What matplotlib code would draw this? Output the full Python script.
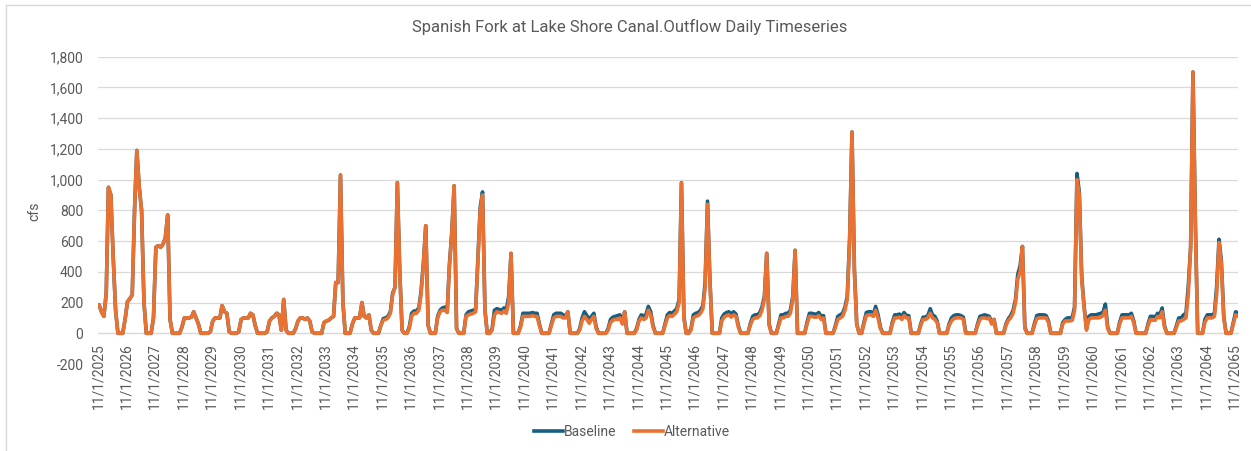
import matplotlib
matplotlib.use("Agg")
import matplotlib.pyplot as plt
import pandas as pd
from matplotlib.lines import Line2D
from matplotlib.ticker import FuncFormatter, FixedLocator, FixedFormatter

# ---------------- data (monthly readings, Nov..Oct per water year) ----------------
series_names = ["Baseline", "Alternative"]
first_month = "2025-11"

alternative = [
    185, 140, 110, 260, 950, 900, 500, 150, 0, 0, 0, 90,          # 2025-26
    205, 225, 250, 820, 1190, 950, 800, 200, 0, 0, 0, 100,       # 2026-27
    560, 570, 560, 580, 620, 770, 90, 0, 0, 0, 0, 40,            # 2027-28
    100, 100, 100, 105, 140, 100, 60, 0, 0, 0, 0, 10,            # 2028-29
    80, 100, 100, 100, 180, 140, 130, 10, 0, 0, 0, 10,           # 2029-30
    90, 100, 100, 100, 130, 120, 50, 0, 0, 0, 0, 10,             # 2030-31
    80, 100, 110, 130, 120, 20, 220, 20, 0, 0, 0, 30,            # 2031-32
    80, 100, 100, 90, 100, 80, 10, 0, 0, 0, 0, 70,               # 2032-33
    80, 85, 100, 110, 330, 330, 1030, 200, 0, 0, 0, 60,          # 2033-34
    100, 100, 100, 200, 110, 100, 120, 20, 0, 0, 0, 50,          # 2034-35
    85, 90, 100, 130, 250, 300, 980, 400, 20, 0, 0, 30,          # 2035-36
    110, 130, 130, 150, 250, 450, 700, 50, 0, 0, 0, 100,         # 2036-37
    140, 150, 150, 135, 430, 650, 960, 30, 0, 0, 0, 110,         # 2037-38
    120, 125, 130, 140, 450, 800, 900, 150, 0, 0, 20, 120,       # 2038-39
    140, 135, 130, 145, 130, 200, 520, 0, 0, 0, 40, 110,         # 2039-40
    110, 110, 110, 115, 110, 110, 50, 0, 0, 0, 0, 50,            # 2040-41
    100, 110, 110, 110, 100, 100, 140, 0, 0, 0, 0, 20,           # 2041-42
    80, 110, 90, 65, 90, 110, 30, 0, 0, 0, 0, 20,                # 2042-43
    70, 85, 90, 90, 100, 60, 140, 0, 0, 0, 0, 20,                # 2043-44
    80, 100, 90, 100, 150, 120, 40, 0, 0, 0, 0, 50,              # 2044-45
    100, 115, 110, 125, 140, 200, 980, 100, 0, 0, 20, 100,       # 2045-46
    110, 115, 130, 160, 300, 840, 350, 0, 0, 0, 0, 80,           # 2046-47
    105, 115, 120, 105, 120, 110, 40, 0, 0, 0, 0, 50,            # 2047-48
    90, 100, 100, 115, 150, 220, 520, 50, 0, 0, 0, 50,           # 2048-49
    100, 100, 110, 110, 130, 220, 540, 0, 0, 0, 0, 60,           # 2049-50
    110, 110, 105, 105, 115, 90, 100, 0, 0, 0, 0, 40,            # 2050-51
    90, 100, 110, 150, 220, 600, 1310, 400, 60, 0, 0, 60,        # 2051-52
    115, 120, 120, 110, 150, 100, 30, 0, 0, 0, 0, 60,            # 2052-53
    100, 100, 105, 90, 115, 100, 100, 0, 0, 0, 0, 50,            # 2053-54
    90, 90, 100, 130, 100, 90, 70, 0, 0, 0, 0, 50,               # 2054-55
    80, 95, 100, 100, 100, 90, 0, 0, 0, 0, 0, 50,                # 2055-56
    90, 100, 100, 95, 100, 60, 90, 0, 0, 0, 0, 50,               # 2056-57
    85, 100, 130, 200, 350, 400, 565, 30, 0, 0, 0, 50,           # 2057-58
    95, 100, 100, 100, 100, 70, 0, 0, 0, 0, 0, 60,               # 2058-59
    80, 80, 80, 85, 150, 1000, 900, 350, 170, 20, 90, 100,       # 2059-60
    100, 100, 100, 105, 115, 150, 30, 0, 0, 0, 0, 60,            # 2060-61
    100, 100, 100, 100, 110, 70, 0, 0, 0, 0, 0, 50,              # 2061-62
    90, 85, 85, 110, 100, 140, 40, 0, 0, 0, 0, 40,               # 2062-63
    80, 80, 90, 100, 250, 550, 1700, 700, 0, 0, 0, 70,           # 2063-64
    100, 100, 100, 110, 250, 590, 450, 100, 0, 0, 0, 60,         # 2064-65
    120, 110,                                                    # 2065
]

baseline = [
    185, 140, 110, 260, 950, 900, 500, 150, 0, 0, 0, 90,          # 2025-26
    205, 225, 250, 820, 1190, 950, 800, 200, 0, 0, 0, 100,       # 2026-27
    560, 570, 560, 580, 620, 770, 90, 0, 0, 0, 0, 40,            # 2027-28
    100, 100, 100, 105, 140, 100, 60, 0, 0, 0, 0, 10,            # 2028-29
    80, 100, 100, 100, 180, 140, 130, 10, 0, 0, 0, 10,           # 2029-30
    90, 100, 100, 100, 130, 120, 50, 0, 0, 0, 0, 10,             # 2030-31
    80, 100, 110, 130, 120, 20, 220, 20, 0, 0, 0, 30,            # 2031-32
    80, 100, 100, 90, 100, 80, 10, 0, 0, 0, 0, 70,               # 2032-33
    80, 85, 100, 110, 330, 330, 1030, 200, 0, 0, 0, 60,          # 2033-34
    100, 100, 100, 200, 110, 100, 120, 20, 0, 0, 0, 50,          # 2034-35
    95, 100, 110, 140, 260, 300, 980, 400, 20, 0, 0, 40,         # 2035-36
    130, 145, 145, 165, 270, 460, 700, 50, 0, 0, 0, 110,         # 2036-37
    150, 165, 170, 145, 445, 660, 960, 30, 0, 0, 0, 120,         # 2037-38
    140, 145, 150, 155, 466, 820, 920, 150, 0, 0, 30, 150,       # 2038-39
    160, 155, 150, 165, 150, 240, 520, 0, 0, 0, 50, 130,         # 2039-40
    130, 130, 130, 135, 130, 130, 60, 0, 0, 0, 0, 60,            # 2040-41
    120, 130, 130, 130, 120, 110, 140, 0, 0, 0, 0, 30,           # 2041-42
    100, 140, 115, 90, 110, 130, 40, 0, 0, 0, 0, 30,             # 2042-43
    90, 105, 110, 115, 120, 70, 140, 0, 0, 0, 0, 30,             # 2043-44
    90, 120, 110, 125, 175, 140, 50, 0, 0, 0, 0, 60,             # 2044-45
    120, 135, 130, 145, 160, 220, 980, 110, 0, 0, 30, 120,       # 2045-46
    130, 135, 150, 180, 330, 860, 360, 0, 0, 0, 0, 100,          # 2046-47
    125, 135, 140, 125, 140, 125, 50, 0, 0, 0, 0, 60,            # 2047-48
    110, 120, 120, 135, 170, 240, 520, 60, 0, 0, 0, 60,          # 2048-49
    120, 120, 130, 130, 150, 240, 540, 0, 0, 0, 0, 70,           # 2049-50
    130, 130, 125, 125, 135, 110, 115, 0, 0, 0, 0, 50,           # 2050-51
    110, 120, 130, 170, 240, 620, 1310, 420, 60, 0, 0, 70,       # 2051-52
    135, 140, 140, 125, 175, 120, 40, 0, 0, 0, 0, 70,            # 2052-53
    120, 120, 125, 110, 135, 115, 115, 0, 0, 0, 0, 60,           # 2053-54
    105, 105, 115, 160, 120, 110, 80, 0, 0, 0, 0, 60,            # 2054-55
    100, 115, 120, 120, 115, 105, 10, 0, 0, 0, 0, 60,            # 2055-56
    110, 115, 120, 115, 110, 70, 90, 0, 0, 0, 0, 60,             # 2056-57
    95, 115, 150, 220, 380, 440, 565, 40, 0, 0, 0, 60,           # 2057-58
    115, 120, 120, 120, 115, 80, 0, 0, 0, 0, 0, 70,              # 2058-59
    90, 100, 100, 105, 170, 1040, 920, 370, 180, 30, 110, 120,   # 2059-60
    120, 120, 125, 130, 135, 190, 40, 0, 0, 0, 0, 70,            # 2060-61
    120, 120, 120, 120, 130, 80, 0, 0, 0, 0, 0, 60,              # 2061-62
    110, 110, 105, 130, 120, 165, 50, 0, 0, 0, 0, 50,            # 2062-63
    100, 100, 120, 130, 300, 560, 1700, 720, 0, 0, 0, 90,        # 2063-64
    120, 120, 120, 130, 300, 612, 470, 110, 0, 0, 0, 70,         # 2064-65
    140, 130,                                                    # 2065
]

tick_years = list(range(2025, 2066))
tick_labels = ["11/1/%d" % y for y in tick_years]
y_ticks = [-200, 0, 200, 400, 600, 800, 1000, 1200, 1400, 1600, 1800]

title = "Spanish Fork at Lake Shore Canal.Outflow Daily Timeseries"
y_label = "cfs"

# ---------------- styling ----------------
FONT = ["Roboto", "DejaVu Sans"]
plt.rcParams["font.family"] = FONT
TXT = "#595959"
GRID = "#D9D9D9"
C_BASE = "#156082"
C_ALT = "#E97132"

W, H = 1251, 451
fig = plt.figure(figsize=(W / 100, H / 100), dpi=100)
fig.patch.set_facecolor("white")

left, right, top, bottom = 98, 1238, 56.7, 364
ax = fig.add_axes([left / W, 1 - bottom / H, (right - left) / W, (bottom - top) / H])

# numeric day axis (days since start) to keep full control of ticks
t0 = pd.Timestamp(first_month + "-01")
dates = pd.date_range(t0, periods=len(alternative), freq="MS") + pd.Timedelta(days=14)
xdays = [(d - t0).days for d in dates]
tick_pos = [(pd.Timestamp("%d-11-01" % y) - t0).days for y in tick_years]

ax.plot(xdays, baseline, color=C_BASE, lw=2.6, solid_joinstyle="round", solid_capstyle="round", zorder=3)
ax.plot(xdays, alternative, color=C_ALT, lw=2.6, solid_joinstyle="round", solid_capstyle="round", zorder=4)

ax.set_xlim(0, xdays[-1])
ax.set_ylim(-200, 1800)
ax.yaxis.set_major_locator(FixedLocator(y_ticks))
ax.yaxis.set_major_formatter(FuncFormatter(lambda v, p: "{:,.0f}".format(v)))
ax.xaxis.set_major_locator(FixedLocator(tick_pos))
ax.xaxis.set_major_formatter(FixedFormatter(tick_labels))

for s in ["top", "right", "left"]:
    ax.spines[s].set_visible(False)
ax.spines["bottom"].set_position(("data", 0))
ax.spines["bottom"].set_color(GRID)
ax.spines["bottom"].set_linewidth(0.9)
ax.spines["bottom"].set_zorder(1)

ax.yaxis.grid(True, color=GRID, lw=0.9)
ax.set_axisbelow(True)
ax.tick_params(axis="x", length=0, pad=7, labelsize=10, labelcolor=TXT, labelrotation=90)
ax.tick_params(axis="y", length=0, pad=10.5, labelsize=10, labelcolor=TXT)

fig.text(630 / W, 1 - 27 / H, title, ha="center", va="center", fontsize=12, color=TXT)
fig.text(34 / W, 1 - 211 / H, y_label, ha="center", va="center", rotation=90, fontsize=10, color=TXT)

handles = [Line2D([0], [0], color=C_BASE, lw=2.6), Line2D([0], [0], color=C_ALT, lw=2.6)]
fig.legend(handles, series_names, loc="center", bbox_to_anchor=(632 / W, 1 - 432 / H), ncol=2,
           frameon=False, fontsize=10, labelcolor=TXT, handlelength=2.1, handletextpad=0.1,
           columnspacing=1.2, borderaxespad=0)

# chart-area border (left and top edges visible in the reference)
fig.add_artist(Line2D([6 / W, 6 / W], [0, 1 - 5 / H], transform=fig.transFigure, color=GRID, lw=1))
fig.add_artist(Line2D([6 / W, 1], [1 - 5 / H, 1 - 5 / H], transform=fig.transFigure, color=GRID, lw=1))

fig.savefig("out.png", dpi=100, facecolor="white")
